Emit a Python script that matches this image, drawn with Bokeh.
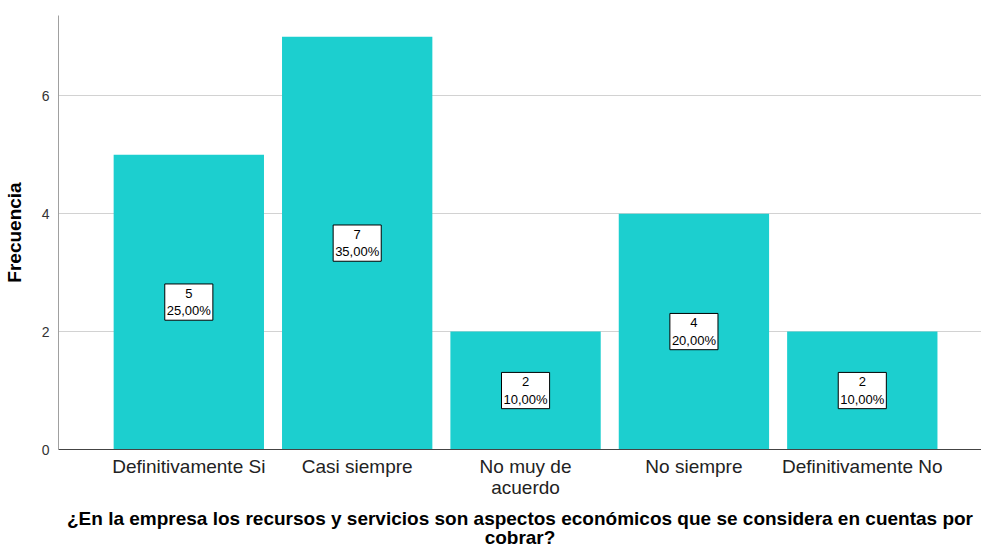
from bokeh.plotting import figure
from bokeh.models import ColumnDataSource, FixedTicker, Range1d
from bokeh.core.properties import value
from bokeh.embed import file_html
from bokeh.resources import INLINE

categories = ["Definitivamente Si", "Casi siempre", "No muy de\nacuerdo", "No siempre", "Definitivamente No"]
counts = [5, 7, 2, 4, 2]
percents = ["25,00%", "35,00%", "10,00%", "20,00%", "10,00%"]
y_ticks = [0, 2, 4, 6]

xs = list(range(1, len(categories) + 1))
src = ColumnDataSource(dict(
    x=xs,
    top=counts,
    mid=[c / 2 for c in counts],
    lab=[f"{c}\n{p}" for c, p in zip(counts, percents)],
))

FONT = "Liberation Sans"

p = figure(width=981, height=551, output_backend="svg", toolbar_location=None,
           x_range=Range1d(0.226, 5.708), y_range=Range1d(0, 7.36),
           min_border_left=2, min_border_top=15, min_border_right=0, min_border_bottom=0)
p.outline_line_color = None
p.background_fill_color = "white"

p.vbar(x="x", top="top", width=150 / 168, source=src, fill_color="#1ccfcf", line_color=None)

p.text(x="x", y="mid", text="lab", source=src, text_align="center",
       text_baseline="middle", text_font=value(FONT), text_font_size="13px",
       text_color="black", text_line_height=1.15,
       background_fill_color="white", border_line_color="black", border_line_width=1,
       padding=2)

p.xgrid.grid_line_color = None
p.ygrid.ticker = FixedTicker(ticks=[2, 4, 6])
p.ygrid.grid_line_color = "#d2d2d2"
p.ygrid.grid_line_width = 1

p.yaxis.ticker = FixedTicker(ticks=y_ticks)
p.yaxis.axis_label = "Frecuencia"
p.yaxis.axis_label_text_font = FONT
p.yaxis.axis_label_text_font_style = "bold"
p.yaxis.axis_label_text_font_size = "19px"
p.yaxis.axis_label_text_color = "black"
p.yaxis.axis_label_standoff = 14
p.yaxis.major_label_text_font = FONT
p.yaxis.major_label_text_font_size = "14px"
p.yaxis.major_label_text_color = "#333333"
p.yaxis.major_label_standoff = 9
p.yaxis.major_tick_out = 0
p.yaxis.major_tick_in = 0
p.yaxis.minor_tick_line_color = None
p.yaxis.axis_line_color = "#a0a0a0"

p.xaxis.ticker = FixedTicker(ticks=xs)
p.xaxis.major_label_overrides = {x: c for x, c in zip(xs, categories)}
p.xaxis.major_label_text_font = FONT
p.xaxis.major_label_text_font_size = "19px"
p.xaxis.major_label_text_line_height = 1.0
p.xaxis.major_label_text_color = "#222222"
p.xaxis.major_label_standoff = 6
p.xaxis.major_tick_out = 0
p.xaxis.major_tick_in = 0
p.xaxis.minor_tick_line_color = None
p.xaxis.axis_line_color = "#444444"
p.xaxis.axis_label = "¿En la empresa los recursos y servicios son aspectos económicos que se considera en cuentas por\ncobrar?"
p.xaxis.axis_label_text_font = FONT
p.xaxis.axis_label_text_font_style = "bold"
p.xaxis.axis_label_text_font_size = "19px"
p.xaxis.axis_label_text_line_height = 0.95
p.xaxis.axis_label_text_color = "black"
p.xaxis.axis_label_standoff = 7

open("out.html", "w").write(file_html(p, INLINE))
